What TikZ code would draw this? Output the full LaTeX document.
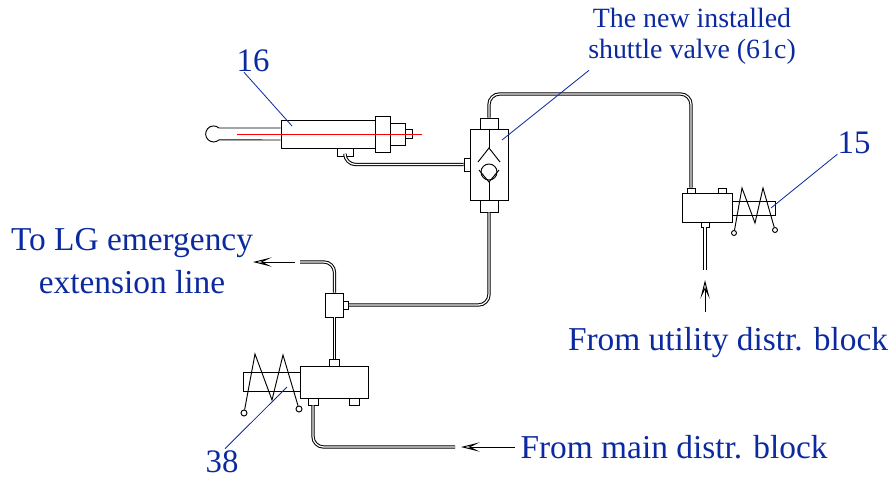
\documentclass[tikz,border=0pt]{standalone}
\usepackage{fontspec}
\setmainfont{Liberation Serif}
\usetikzlibrary{arrows.meta}
\definecolor{labelblue}{RGB}{12,42,160}
\tikzset{
  part/.style 2 args={draw,fill=white,line width=0.8pt,inner sep=0pt,minimum width=#1*0.03cm,minimum height=#2*0.03cm},
  ring/.style={draw,fill=white,circle,line width=0.8pt,inner sep=0pt,minimum size=#1*0.03cm},
  tube/.style={draw=black,line width=0.85pt,double=white,double distance=1.1pt,rounded corners=9pt},
  flow/.style={line width=0.8pt,-{Stealth[open,length=16pt,width=8pt,inset=8pt]}},
  lead/.style={draw=labelblue,line width=0.7pt},
  lab/.style={text=labelblue,inner sep=0pt,align=center,font=\fontsize{#1}{#1}\selectfont}
}
\begin{document}
\begin{tikzpicture}[x=0.03cm,y=-0.03cm]
\useasboundingbox (0,0) rectangle (891,477);

\node[part={94}{28}] (cyl) at (328,134) {};
\node[part={15}{36}] (flange) at (382.5,134) {};
\node[part={15}{22}] (gland) at (397.5,134) {};
\node[part={7}{9}] (cap) at (408.5,134) {};
\node[part={16}{8}] (cylport) at (345,152) {};
\draw[line width=0.8pt] (cyl.west |- 0,128) -- (219,128) arc[start angle=-48,end angle=-312,radius=8] -- (cyl.west |- 0,140);
\coordinate (redstart) at (237,134);
\coordinate (redend) at (422,134);
\draw[red,line width=0.8pt] (redstart) -- (redend);

\node[part={38}{71}] (shuttle) at (489,164.5) {};
\node[part={18}{11}] (shtop) at (489,123.5) {};
\node[part={18}{12}] (shbot) at (489,206) {};
\node[part={6}{13}] (shleft) at (467,164.5) {};
\coordinate (apex) at (489,148);
\node[ring=16] (check) at (489,172) {};
\coordinate (seat) at (489,182);
\draw[line width=0.8pt] (shuttle.north) -- (apex);
\draw[line width=0.8pt] (478,162) -- (apex) -- (500,162);
\draw[line width=0.8pt] (479,170) -- (seat) -- (499,170);
\draw[line width=0.8pt] (seat) -- (shuttle.south);

\node[part={50}{29}] (utilvalve) at (707,207.5) {};
\node[part={8}{5}] (utilp1) at (691,190.5) {};
\node[part={8}{5}] (utilp2) at (722,190.5) {};
\node[part={8}{5}] (utilp3) at (705,224.5) {};
\node[part={43}{14}] (utilrod) at (753.5,208) {};
\node[ring=5] (utila) at (734,233) {};
\node[ring=5] (utilb) at (775,230) {};
\draw[line width=0.8pt] (utila) -- (742,188) -- (755,223) -- (763,188) -- (utilb);
\coordinate (utilend) at (705,270);

\node[part={68}{32}] (mainvalve) at (334,382) {};
\node[part={10}{7}] (mainp1) at (334.5,362.5) {};
\node[part={10}{7}] (mainp2) at (313,401.5) {};
\node[part={10}{7}] (mainp3) at (354,401.5) {};
\node[part={57}{19}] (mainrod) at (271.5,381.5) {};
\node[ring=6] (maina) at (244,413) {};
\node[ring=6] (mainb) at (299,409) {};
\draw[line width=0.8pt] (maina) -- (255,354) -- (272,400) -- (283,355) -- (mainb);

\node[part={18}{24}] (tee) at (334.5,305) {};
\node[part={5}{8}] (teeport) at (346,305) {};

\coordinate (mainend) at (455,447);
\coordinate (emergend) at (300,262);
\draw[tube] (cylport.south) |- (shleft.west);
\draw[tube] (shtop.north) |- (691,94) -- (utilp1.north);
\draw[tube] (shbot.south) |- (teeport.east);
\draw[tube] (utilp3.south) -- (utilend);
\draw[tube] (mainp2.south) |- (mainend);
\draw[tube] (tee.south) -- (mainp1.north);
\draw[tube] (tee.north) |- (emergend);

\coordinate (flowa) at (295,262);
\coordinate (flowb) at (253,262);
\coordinate (flowc) at (705,312);
\coordinate (flowd) at (705,280);
\coordinate (flowe) at (515,447);
\coordinate (flowf) at (461,447);
\draw[flow] (flowa) -- (flowb);
\draw[flow] (flowc) -- (flowd);
\draw[flow] (flowe) -- (flowf);

\node[lab=28] (lab16) at (253,61) {16};
\node[lab=23.8] (lab61c) at (692,36) {The new installed\\[2.6pt]shuttle valve (61c)};
\node[lab=28] (lab15) at (854,143) {15};
\node[lab=28.5] (lablg) at (132,261) {To LG emergency\\[8pt]extension line};
\node[lab=28.5] (labutil) at (728,343) {From utility distr. block};
\node[lab=28.5] (labmain) at (674,447) {From main distr. block};
\node[lab=28] (lab38) at (222,462) {38};

\coordinate (end16) at (292,126);
\coordinate (end61c) at (502,140);
\coordinate (end15) at (771,208);
\coordinate (end38) at (287,387);
\draw[lead] (lab16.south) ++(-9,0) -- (end16);
\draw[lead] (lab61c.south west) ++(1,6) -- (end61c);
\draw[lead] (lab15.south west) -- (end15);
\draw[lead] (lab38.north) ++(3,-2) -- (end38);
\end{tikzpicture}
\end{document}
